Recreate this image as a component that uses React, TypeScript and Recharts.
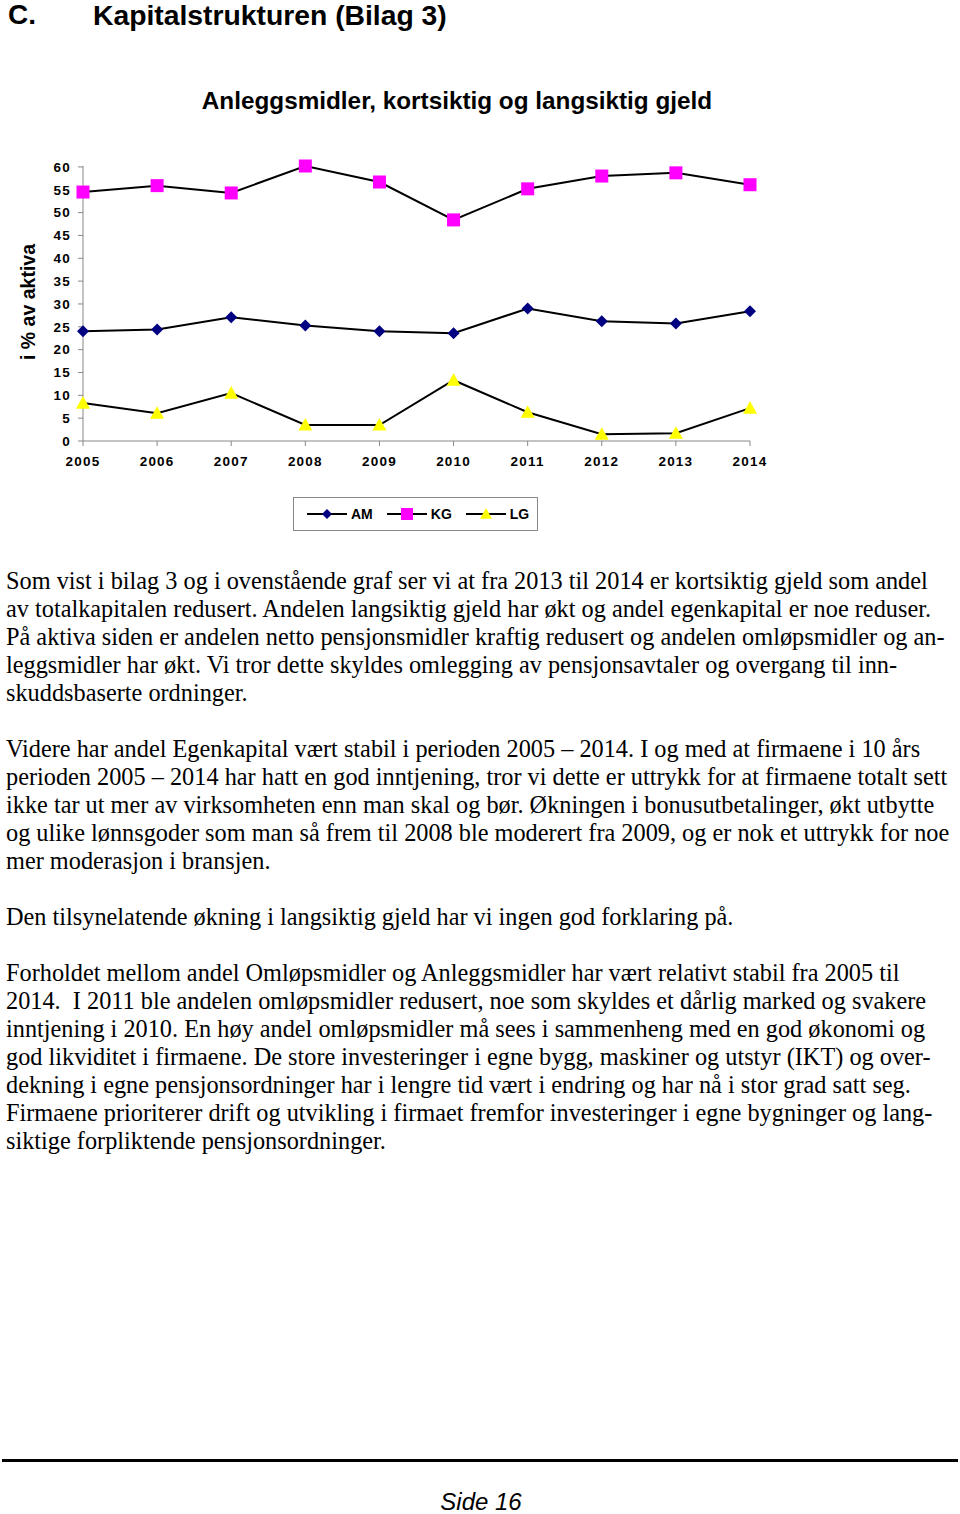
import React from 'react';
import { LineChart, Line, XAxis, YAxis } from 'recharts';

const years = ['2005', '2006', '2007', '2008', '2009', '2010', '2011', '2012', '2013', '2014'];
const amValues = [24.0, 24.4, 27.1, 25.3, 24.0, 23.6, 29.0, 26.2, 25.7, 28.4];
const kgValues = [54.5, 55.9, 54.3, 60.2, 56.7, 48.4, 55.2, 58.0, 58.7, 56.1];
const lgValues = [8.3, 6.1, 10.5, 3.5, 3.5, 13.3, 6.3, 1.5, 1.7, 7.2];
const yTicks = [0, 5, 10, 15, 20, 25, 30, 35, 40, 45, 50, 55, 60];

const data = years.map((year, i) => ({ year, AM: amValues[i], KG: kgValues[i], LG: lgValues[i] }));

const paragraphs = [
  [
    'Som vist i bilag 3 og i ovenstående graf ser vi at fra 2013 til 2014 er kortsiktig gjeld som andel',
    'av totalkapitalen redusert. Andelen langsiktig gjeld har økt og andel egenkapital er noe reduser.',
    'På aktiva siden er andelen netto pensjonsmidler kraftig redusert og andelen omløpsmidler og an-',
    'leggsmidler har økt. Vi tror dette skyldes omlegging av pensjonsavtaler og overgang til inn-',
    'skuddsbaserte ordninger.',
  ],
  [
    'Videre har andel Egenkapital vært stabil i perioden 2005 – 2014. I og med at firmaene i 10 års',
    'perioden 2005 – 2014 har hatt en god inntjening, tror vi dette er uttrykk for at firmaene totalt sett',
    'ikke tar ut mer av virksomheten enn man skal og bør. Økningen i bonusutbetalinger, økt utbytte',
    'og ulike lønnsgoder som man så frem til 2008 ble moderert fra 2009, og er nok et uttrykk for noe',
    'mer moderasjon i bransjen.',
  ],
  ['Den tilsynelatende økning i langsiktig gjeld har vi ingen god forklaring på.'],
  [
    'Forholdet mellom andel Omløpsmidler og Anleggsmidler har vært relativt stabil fra 2005 til',
    '2014.  I 2011 ble andelen omløpsmidler redusert, noe som skyldes et dårlig marked og svakere',
    'inntjening i 2010. En høy andel omløpsmidler må sees i sammenheng med en god økonomi og',
    'god likviditet i firmaene. De store investeringer i egne bygg, maskiner og utstyr (IKT) og over-',
    'dekning i egne pensjonsordninger har i lengre tid vært i endring og har nå i stor grad satt seg.',
    'Firmaene prioriterer drift og utvikling i firmaet fremfor investeringer i egne bygninger og lang-',
    'siktige forpliktende pensjonsordninger.',
  ],
];

const SANS = '"Liberation Sans", Arial, sans-serif';
const SERIF = '"Liberation Serif", "Times New Roman", serif';

// marker shapes, roughly the Excel ones
const Diamond = ({ cx, cy, r = 6 }: any) => (
  <path d={`M${cx},${cy - r}L${cx + r},${cy}L${cx},${cy + r}L${cx - r},${cy}Z`} fill="#000080" />
);
const Square = ({ cx, cy, r = 6 }: any) => (
  <rect x={cx - r} y={cy - r} width={r * 2} height={r * 2} fill="#FF00FF" />
);
const Triangle = ({ cx, cy, r = 6.5 }: any) => (
  <path d={`M${cx},${cy - r}L${cx + r},${cy + r * 0.8}L${cx - r},${cy + r * 0.8}Z`} fill="#FFFF00" />
);

const tickStyle = { fontFamily: SANS, fontWeight: 700, fontSize: 13.5, letterSpacing: 1.2, fill: '#000' };

function LegendItem({ label, shape }: { label: string; shape: 'd' | 's' | 't' }) {
  return (
    <span style={{ display: 'inline-flex', alignItems: 'center', marginRight: 14 }}>
      <svg width={40} height={16}>
        <line x1={0} y1={8} x2={40} y2={8} stroke="#000" strokeWidth={2} />
        {shape === 'd' && <Diamond cx={20} cy={8} r={5} />}
        {shape === 's' && <Square cx={20} cy={8} r={6} />}
        {shape === 't' && <Triangle cx={20} cy={8} r={6} />}
      </svg>
      <span style={{ marginLeft: 4 }}>{label}</span>
    </span>
  );
}

export default function App() {
  return (
    <div style={{ position: 'absolute', left: 0, top: 0, width: 960, height: 1514, background: '#fff' }}>
      <div style={{ position: 'absolute', left: 8, top: -1, fontFamily: SANS, fontWeight: 700, fontSize: 28 }}>C.</div>
      <div style={{ position: 'absolute', left: 93, top: -1, fontFamily: SANS, fontWeight: 700, fontSize: 28.3 }}>
        Kapitalstrukturen (Bilag 3)
      </div>

      <div style={{ position: 'absolute', left: 0, width: 914, top: 87, textAlign: 'center', fontFamily: SANS, fontWeight: 700, fontSize: 24.3 }}>
        Anleggsmidler, kortsiktig og langsiktig gjeld
      </div>

      <div
        style={{
          position: 'absolute', left: 28, top: 302, transform: 'translate(-50%, -50%) rotate(-90deg)',
          whiteSpace: 'nowrap', fontFamily: SANS, fontWeight: 700, fontSize: 19.5,
        }}
      >
        i % av aktiva
      </div>

      <div style={{ position: 'absolute', left: 0, top: 150 }}>
        <LineChart width={800} height={330} data={data} margin={{ top: 16, right: 50, bottom: 9, left: 23 }}>
          <XAxis
            dataKey="year"
            stroke="#888"
            tickSize={5}
            tickMargin={10}
            height={30}
            tick={tickStyle}
            interval={0}
          />
          <YAxis
            domain={[0, 60]}
            ticks={yTicks}
            stroke="#888"
            tickSize={5}
            tickMargin={7}
            width={60}
            tick={tickStyle}
            interval={0}
          />
          <Line dataKey="AM" stroke="#000" strokeWidth={2} isAnimationActive={false}
            dot={(p: any) => <Diamond key={`am-${p.index}`} cx={p.cx} cy={p.cy} r={6} />} />
          <Line dataKey="KG" stroke="#000" strokeWidth={2} isAnimationActive={false}
            dot={(p: any) => <Square key={`kg-${p.index}`} cx={p.cx} cy={p.cy} r={6.5} />} />
          <Line dataKey="LG" stroke="#000" strokeWidth={2} isAnimationActive={false}
            dot={(p: any) => <Triangle key={`lg-${p.index}`} cx={p.cx} cy={p.cy} r={7} />} />
        </LineChart>
      </div>

      <div
        style={{
          position: 'absolute', left: 293, top: 497, width: 245, height: 34, border: '1px solid #888',
          display: 'flex', alignItems: 'center', paddingLeft: 13, boxSizing: 'border-box',
          fontFamily: SANS, fontWeight: 700, fontSize: 14,
        }}
      >
        <LegendItem label="AM" shape="d" />
        <LegendItem label="KG" shape="s" />
        <LegendItem label="LG" shape="t" />
      </div>

      <div style={{ position: 'absolute', left: 6, top: 567, fontFamily: SERIF, fontSize: 24.3, lineHeight: '28px', whiteSpace: 'pre' }}>
        {paragraphs.map((lines, i) => (
          <div key={i} style={{ marginBottom: 28 }}>
            {lines.map((l, j) => <div key={j}>{l}</div>)}
          </div>
        ))}
      </div>

      <div style={{ position: 'absolute', left: 2, top: 1459, width: 956, height: 3, background: '#000' }} />
      <div style={{ position: 'absolute', left: 0, width: 962, top: 1488, textAlign: 'center', fontFamily: SANS, fontStyle: 'italic', fontSize: 24 }}>
        Side 16
      </div>
    </div>
  );
}
